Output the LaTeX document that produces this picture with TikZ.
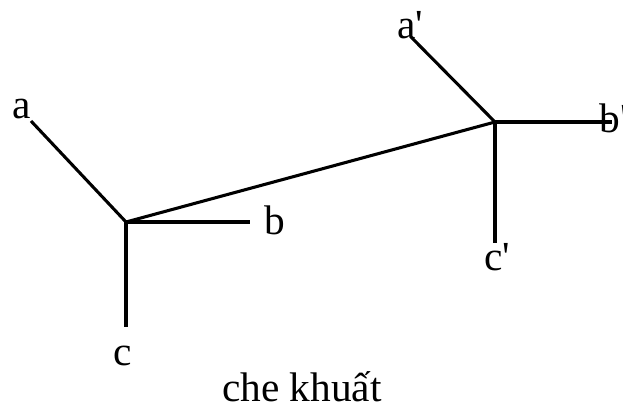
\documentclass[tikz,border=0pt]{standalone}
\usepackage{fontspec}
\setmainfont{Liberation Serif}[Ligatures=TeXOff]
\begin{document}
\begin{tikzpicture}[x=0.75pt,y=-0.75pt,
  bar/.style={line width=2.3pt,line cap=butt},
  lbl/.style={inner sep=0pt,anchor=base,font=\fontsize{31}{36}\selectfont}]
\useasboundingbox (0,0) rectangle (623,408);
% left joint
\coordinate (J1) at (126,222);
\coordinate (A1) at (31,121);
\coordinate (B1) at (250,222);
\coordinate (C1) at (126,327);
% right joint
\coordinate (J2) at (495,122);
\coordinate (A2) at (411,37);
\coordinate (B2) at (612,122);
\coordinate (C2) at (495,243);
\draw[bar] (A1) -- (J1);
\draw[bar] (J1) -- (B1);
\draw[bar] (J1) -- (C1);
\draw[bar] (J1) -- (J2);
\draw[bar] (A2) -- (J2);
\draw[bar] (J2) -- (B2);
\draw[bar] (J2) -- (C2);
\node[lbl] (la) at (22,118) {a};
\node[lbl] (lb) at (275,234) {b};
\node[lbl] (lc) at (123,365) {c};
\node[lbl] (la2) at (410,38) {a'};
\node[lbl] (lb2) at (614,132) {b'};
\node[lbl] (lc2) at (497,270) {c'};
\node[lbl] (cap) at (302,401) {che khuất};
\end{tikzpicture}
\end{document}
